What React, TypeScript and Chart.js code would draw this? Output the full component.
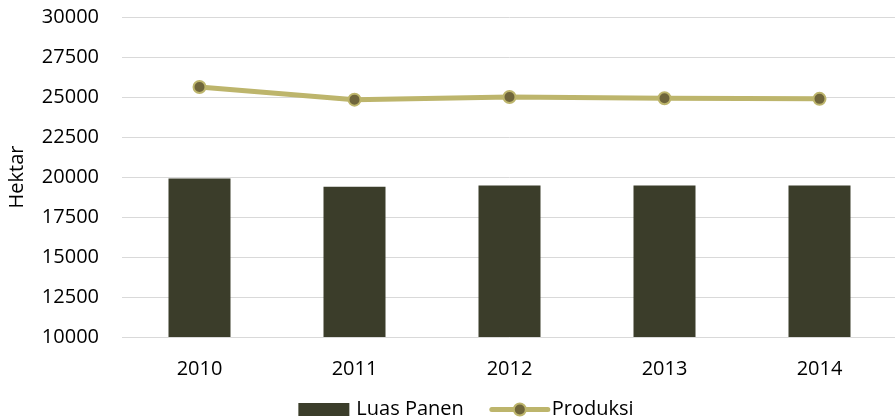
import React, { useEffect, useRef } from "react";
import { Chart, registerables } from "chart.js";

Chart.register(...registerables);

const years = ["2010", "2011", "2012", "2013", "2014"];
const luasPanen = [19900, 19385, 19465, 19465, 19465];
const produksi = [25625, 24835, 25000, 24920, 24885];
const yMin = 10000;
const yMax = 30000;
const yStep = 2500;

const FONT = '"Open Sans", "Noto Sans", sans-serif';
const BAR_COLOR = "#3b3d2a";
const LINE_COLOR = "#bdb56c";
const POINT_FILL = "#6f653b";

const customLegend = {
  id: "customLegend",
  afterDraw(chart: any) {
    const ctx = chart.ctx;
    const ds = chart.data.datasets;
    ctx.save();
    ctx.font = `20px ${FONT}`;
    ctx.textBaseline = "middle";
    ctx.fillStyle = "#000";
    const t1 = ds[0].label;
    const t2 = ds[1].label;
    const w1 = ctx.measureText(t1).width;
    const w2 = ctx.measureText(t2).width;
    const total = 51 + 7 + w1 + 28 + 56 + 4 + w2;
    const cy = 409.5;
    let x = 466 - total / 2;
    ctx.fillStyle = BAR_COLOR;
    ctx.fillRect(x, cy - 6.5, 51, 13);
    x += 58;
    ctx.fillStyle = "#000";
    ctx.fillText(t1, x, cy);
    x += w1 + 28;
    ctx.strokeStyle = LINE_COLOR;
    ctx.lineWidth = 5;
    ctx.lineCap = "round";
    ctx.beginPath();
    ctx.moveTo(x, cy);
    ctx.lineTo(x + 56, cy);
    ctx.stroke();
    ctx.beginPath();
    ctx.arc(x + 28, cy, 6, 0, Math.PI * 2);
    ctx.fillStyle = POINT_FILL;
    ctx.fill();
    ctx.lineWidth = 2;
    ctx.stroke();
    x += 60;
    ctx.fillStyle = "#000";
    ctx.fillText(t2, x, cy);
    ctx.restore();
  },
};

export default function App() {
  const ref = useRef<HTMLCanvasElement | null>(null);
  useEffect(() => {
    if (!ref.current) return;
    const chart = new Chart(ref.current, {
      type: "bar",
      data: {
        labels: years,
        datasets: [
          {
            type: "bar",
            label: "Luas Panen",
            data: luasPanen,
            backgroundColor: BAR_COLOR,
            borderWidth: 0,
            barPercentage: 0.8,
            categoryPercentage: 0.5,
            order: 2,
          },
          {
            type: "line",
            label: "Produksi",
            data: produksi,
            borderColor: LINE_COLOR,
            borderWidth: 5,
            pointRadius: 6,
            pointBorderWidth: 2,
            pointBackgroundColor: POINT_FILL,
            pointBorderColor: LINE_COLOR,
            tension: 0,
            order: 1,
          },
        ] as any,
      },
      options: {
        animation: false,
        responsive: false,
        maintainAspectRatio: false,
        devicePixelRatio: 1,
        layout: { autoPadding: false, padding: { top: 17, right: 0, bottom: 32, left: 0 } },
        plugins: {
          legend: { display: false },
          tooltip: { enabled: false },
        },
        scales: {
          x: {
            grid: { display: false, drawTicks: false },
            border: { display: false },
            ticks: { color: "#000", font: { family: FONT, size: 20 }, padding: 20 },
            afterFit: (s: any) => {
              s.height = 50;
              s.paddingLeft = 0;
              s.paddingRight = 0;
            },
          },
          y: {
            min: yMin,
            max: yMax,
            grid: { color: "#d9d9d9", lineWidth: 1, drawTicks: true, tickLength: 23, tickColor: "rgba(0,0,0,0)" },
            border: { display: false },
            ticks: {
              stepSize: yStep,
              color: "#000",
              font: { family: FONT, size: 20 },
              padding: 0,
              callback: (v: any) => String(v),
            },
            title: {
              display: true,
              text: "Hektar",
              color: "#000",
              font: { family: FONT, size: 20 },
              padding: { top: 5, bottom: 0 },
            },
            afterFit: (s: any) => {
              s.width = 122;
              s.paddingLeft = 0;
              s.paddingRight = 0;
            },
          },
        },
      },
      plugins: [customLegend],
    });
    return () => chart.destroy();
  }, []);
  return (
    <div style={{ position: "fixed", left: 0, top: 0, width: 895, height: 419, overflow: "hidden", background: "#fff" }}>
      <canvas ref={ref} width={897} height={419} style={{ display: "block", width: 897, height: 419 }} />
    </div>
  );
}
